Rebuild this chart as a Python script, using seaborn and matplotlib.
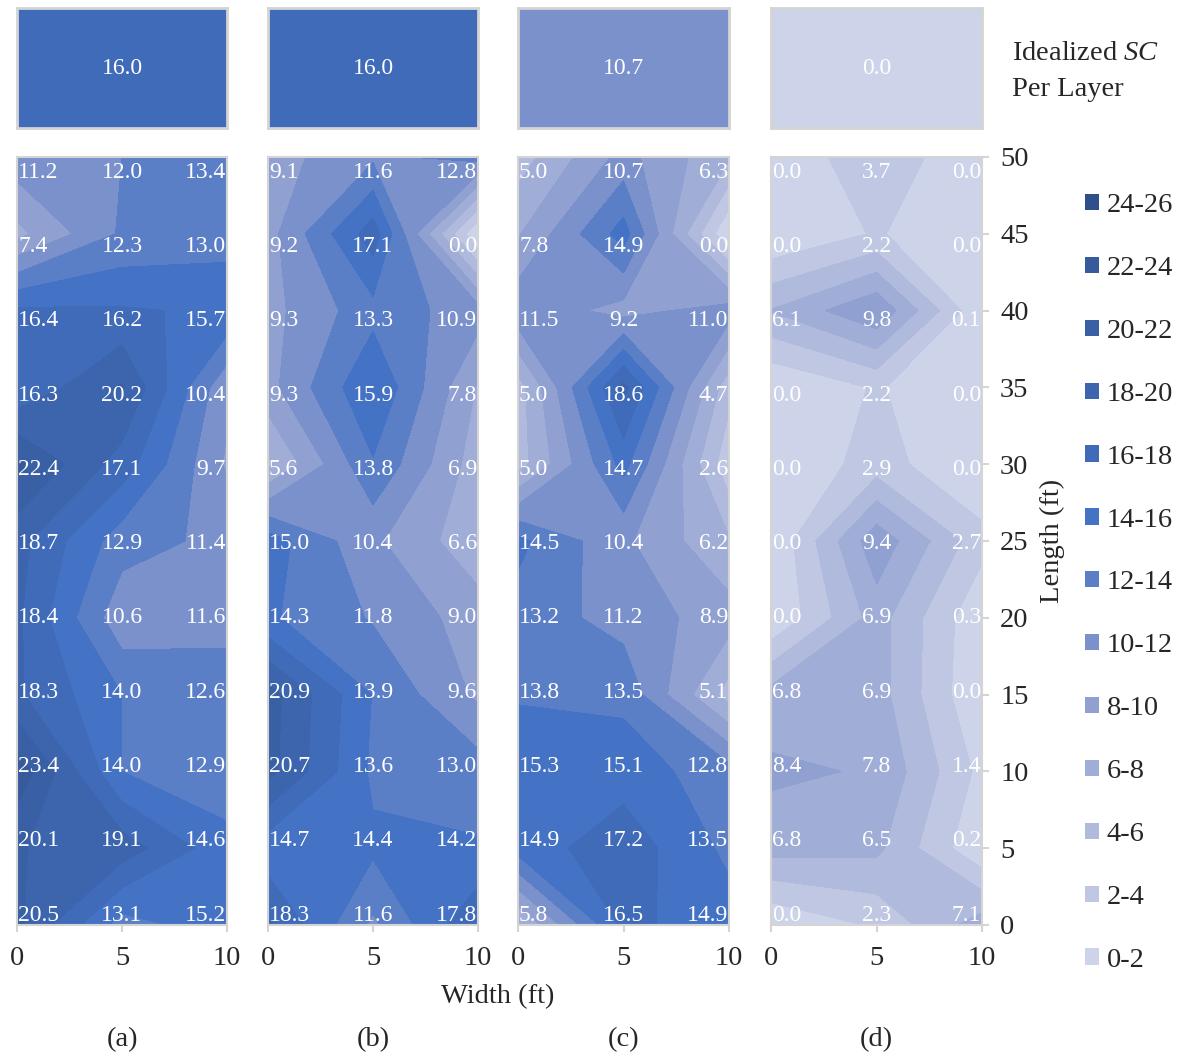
import numpy as np
import matplotlib
matplotlib.use("Agg")
import matplotlib.pyplot as plt
import seaborn as sns
from matplotlib.colors import ListedColormap, BoundaryNorm
from matplotlib.patches import Patch

sns.set_theme(style="white")
plt.rcParams['font.family'] = ['Liberation Serif', 'DejaVu Serif']
plt.rcParams['mathtext.fontset'] = 'custom'
plt.rcParams['mathtext.rm'] = 'Liberation Serif'
plt.rcParams['mathtext.it'] = 'Liberation Serif:italic'

# ---------------- data ----------------
width_ft = [0, 5, 10]
length_ft = [50, 45, 40, 35, 30, 25, 20, 15, 10, 5, 0]   # rows, top to bottom

sc_a = [[11.2, 12.0, 13.4], [7.4, 12.3, 13.0], [16.4, 16.2, 15.7], [16.3, 20.2, 10.4],
        [22.4, 17.1, 9.7], [18.7, 12.9, 11.4], [18.4, 10.6, 11.6], [18.3, 14.0, 12.6],
        [23.4, 14.0, 12.9], [20.1, 19.1, 14.6], [20.5, 13.1, 15.2]]
sc_b = [[9.1, 11.6, 12.8], [9.2, 17.1, 0.0], [9.3, 13.3, 10.9], [9.3, 15.9, 7.8],
        [5.6, 13.8, 6.9], [15.0, 10.4, 6.6], [14.3, 11.8, 9.0], [20.9, 13.9, 9.6],
        [20.7, 13.6, 13.0], [14.7, 14.4, 14.2], [18.3, 11.6, 17.8]]
sc_c = [[5.0, 10.7, 6.3], [7.8, 14.9, 0.0], [11.5, 9.2, 11.0], [5.0, 18.6, 4.7],
        [5.0, 14.7, 2.6], [14.5, 10.4, 6.2], [13.2, 11.2, 8.9], [13.8, 13.5, 5.1],
        [15.3, 15.1, 12.8], [14.9, 17.2, 13.5], [5.8, 16.5, 14.9]]
sc_d = [[0.0, 3.7, 0.0], [0.0, 2.2, 0.0], [6.1, 9.8, 0.1], [0.0, 2.2, 0.0],
        [0.0, 2.9, 0.0], [0.0, 9.4, 2.7], [0.0, 6.9, 0.3], [6.8, 6.9, 0.0],
        [8.4, 7.8, 1.4], [6.8, 6.5, 0.2], [0.0, 2.3, 7.1]]
idealized_sc = [16.0, 16.0, 10.7, 0.0]
panel_labels = ["(a)", "(b)", "(c)", "(d)"]

level_edges = list(range(0, 28, 2))
level_labels = ["0-2", "2-4", "4-6", "6-8", "8-10", "10-12", "12-14",
                "14-16", "16-18", "18-20", "20-22", "22-24", "24-26"]
level_colors = ["#cdd4e9", "#bfc7e3", "#b0badd", "#a0aed7", "#8fa0d1", "#7a91cc",
                "#5b7fc7", "#4472c4", "#3f6bb9", "#3c65ae", "#3960a5", "#375a9b", "#2f4e8c"]

cmap = ListedColormap(level_colors)
norm = BoundaryNorm(level_edges, cmap.N)

W, H = 1188, 1057
fig = plt.figure(figsize=(W / 100, H / 100), dpi=100)

def fr(x0, y0, x1, y1):
    return [x0 / W, 1 - y1 / H, (x1 - x0) / W, (y1 - y0) / H]

panel_x = [(17, 227), (268, 478), (518, 729), (771, 982)]
grid = [sc_a, sc_b, sc_c, sc_d]
spine_col = "#d4d4d4"
fs = 17      # value labels
fs2 = 20.5   # axis text

X, Y = np.meshgrid(width_ft, length_ft)
for i, (x0, x1) in enumerate(panel_x):
    # top idealized box
    axt = fig.add_axes(fr(x0, 8, x1, 128))
    sns.heatmap(np.array([[idealized_sc[i]]]), ax=axt, cmap=cmap, norm=norm, cbar=False,
                annot=True, fmt=".1f", annot_kws={"color": "white", "fontsize": fs},
                xticklabels=False, yticklabels=False)
    for s in axt.spines.values():
        s.set_visible(True)
        s.set_color(spine_col)
        s.set_linewidth(2)

    # contour panel
    ax = fig.add_axes(fr(x0, 157, x1, 925))
    Z = np.array(grid[i])
    ax.contourf(X, Y, Z, levels=level_edges, colors=level_colors)
    ax.set_xlim(0, 10)
    ax.set_ylim(0, 50)
    for r, yv in enumerate(length_ft):
        yt = 0.65 + yv * (48.35 / 50)
        for c, xv in enumerate(width_ft):
            ha = ["left", "center", "right"][c]
            xt = [0.05, 5, 9.95][c]
            ax.text(xt, yt, f"{Z[r, c]:.1f}", ha=ha, va="center", color="white", fontsize=fs)
    ax.set_xticks(width_ft)
    ax.set_xticklabels([str(v) for v in width_ft], fontsize=fs2)
    ax.tick_params(axis="x", bottom=True, length=5, color=spine_col, width=1.5, pad=10)
    if i == 3:
        ax.yaxis.tick_right()
        ax.set_yticks(range(0, 55, 5))
        ax.set_yticklabels([str(v) for v in range(0, 55, 5)], fontsize=fs2)
        ax.tick_params(axis="y", right=True, length=5, color=spine_col, width=1.5, pad=8)
        ax.yaxis.set_label_position("right")
        ax.set_ylabel("Length (ft)", fontsize=fs2, labelpad=8)
    else:
        ax.set_yticks([])
    for s in ax.spines.values():
        s.set_color(spine_col)
        s.set_linewidth(1.5)
    ax.set_xlabel("")
    fig.text(((x0 + x1) / 2) / W, 1 - 1040 / H, panel_labels[i], ha="center", va="center", fontsize=fs2)

fig.text(498 / W, 1 - 997 / H, "Width (ft)", ha="center", va="center", fontsize=fs2)
fig.text(1012 / W, 1 - 54 / H, r"Idealized $\mathit{SC}$", ha="left", va="center", fontsize=fs2)
fig.text(1012 / W, 1 - 89 / H, "Per Layer", ha="left", va="center", fontsize=fs2)

handles = [Patch(facecolor=level_colors[k], edgecolor="none", label=level_labels[k])
           for k in range(len(level_labels) - 1, -1, -1)]
fig.legend(handles=handles, loc="upper left", bbox_to_anchor=(1071 / W, 1 - 179 / H),
           frameon=False, fontsize=fs2, handlelength=0.5, handleheight=0.5,
           handletextpad=0.25, labelspacing=1.33, borderpad=0)

fig.savefig("out.png", dpi=100, facecolor="white")
